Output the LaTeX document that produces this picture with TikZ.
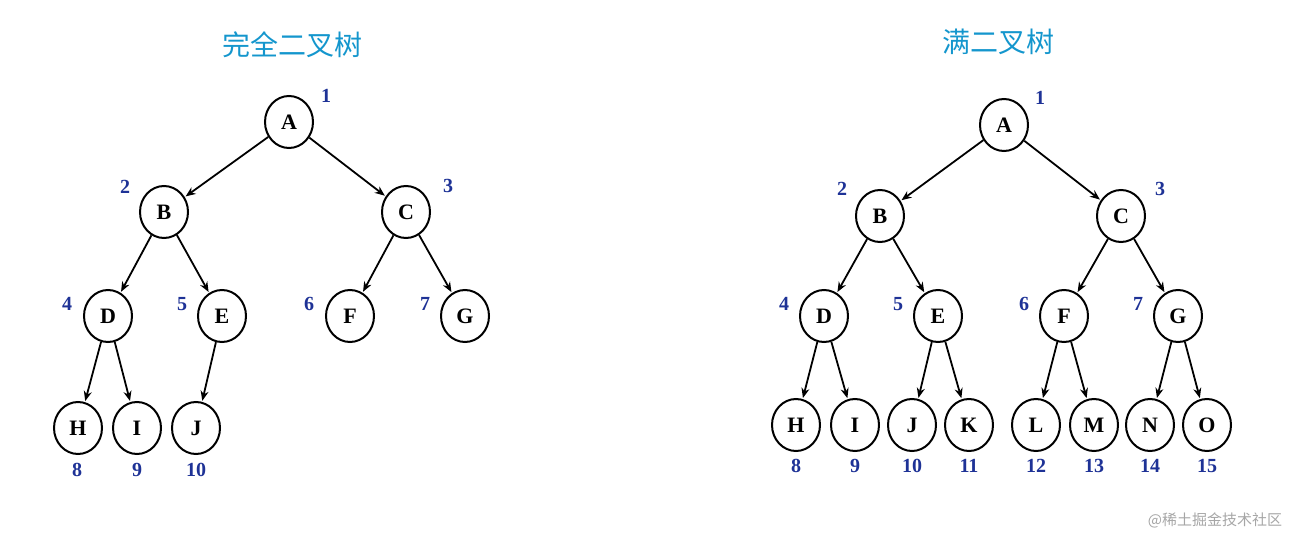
\documentclass[tikz,border=0pt]{standalone}
\usepackage{fontspec}
\usetikzlibrary{shapes.geometric,arrows.meta}
\setmainfont{Liberation Serif}
\newfontfamily\cjk{Noto Sans CJK SC}
\definecolor{ttl}{RGB}{20,150,205}
\definecolor{num}{RGB}{30,50,150}
\begin{document}
\begin{tikzpicture}[x=1pt,y=-1pt,
 nd/.style={draw,line width=2pt,ellipse,minimum width=48pt,minimum height=52pt,inner sep=0pt,font=\bfseries\fontsize{22}{22}\selectfont},
 nm/.style={text=num,font=\bfseries\fontsize{20}{20}\selectfont},
 ar/.style={-{Stealth[length=10pt,width=8pt]},line width=1.8pt,shorten >=1pt}]
\useasboundingbox (0,0) rectangle (1312,545);
\node[text=ttl,font=\cjk\fontsize{28}{28}\selectfont] (t1) at (292,45) {完全二叉树};
\node[text=ttl,font=\cjk\fontsize{28}{28}\selectfont] (t2) at (998,42) {满二叉树};
\node[text=gray!70,font=\cjk\fontsize{15}{15}\selectfont] (wm) at (1215,520) {@稀土掘金技术社区};
% left
\foreach \n/\x/\y in {A/289/122,B/164/212,C/406/212,D/108/316,E/222/316,F/350/316,G/465/316,H/78/428,I/137/428,J/196/428}
  \node[nd] (l\n) at (\x,\y) {\n};
\foreach \a/\b in {A/B,A/C,B/D,B/E,C/F,C/G,D/H,D/I,E/J}
  \draw[ar] (l\a) -- (l\b);
\foreach \t/\x/\y in {1/326/96,2/125/187,3/448/186,4/67/304,5/182/304,6/309/304,7/425/304,8/77/470,9/137/470,10/196/470}
  \node[nm] (ln\t) at (\x,\y) {\t};
% right
\foreach \n/\x/\y in {A/1004/125,B/880/216,C/1121/216,D/824/316,E/938/316,F/1064/316,G/1178/316,H/796/425,I/855/425,J/912/425,K/969/425,L/1036/425,M/1094/425,N/1150/425,O/1207/425}
  \node[nd] (r\n) at (\x,\y) {\n};
\foreach \a/\b in {A/B,A/C,B/D,B/E,C/F,C/G,D/H,D/I,E/J,E/K,F/L,F/M,G/N,G/O}
  \draw[ar] (r\a) -- (r\b);
\foreach \t/\x/\y in {1/1040/98,2/842/189,3/1160/189,4/784/304,5/898/304,6/1024/304,7/1138/304,8/796/466,9/855/466,10/912/466,11/969/466,12/1036/466,13/1094/466,14/1150/466,15/1207/466}
  \node[nm] (rn\t) at (\x,\y) {\t};
\end{tikzpicture}
\end{document}
